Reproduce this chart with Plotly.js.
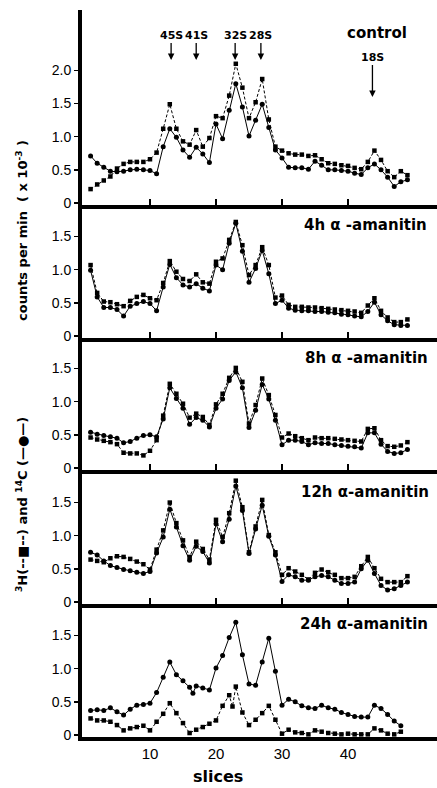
<!DOCTYPE html>
<html><head><meta charset="utf-8">
<script src="https://cdn.plot.ly/plotly-3.0.1.min.js"></script>
<style>html,body{margin:0;padding:0;background:#fff}</style>
</head><body><div id="chart" style="width:437px;height:788px"></div>
<script>
// ---- data ----
const slices = [1,2,3,4,5,6,7,8,9,10,11,12,13,14,15,16,17,18,19,20,21,22,23,24,25,26,27,28,29,30,31,32,33,34,35,36,37,38,39,40,41,42,43,44,45,46,47,48,49];
const slices24C = [1,2,3,4,5,6,7,8,9,10,11,12,13,14,15,16,16.5,17,18,19,20,21,22,23,24,25,26,27,28,29,30,31,32,33,34,35,36,37,38,39,40,41,42,43,44,45,46,47,48];
const slices24H = [1,2,3,4,5,6,7,8,9,10,11,12,13,14,15,16,17,18,19,20,21,22,22.5,23,24,25,26,27,28,29,30,31,32,33,34,35,36,37,38,39,40,41,42,43,44,45,46,47,48];

const ctrlH = [0.21,0.28,0.34,0.40,0.52,0.59,0.62,0.62,0.62,0.66, 0.76,1.12,1.49,1.12,0.93,0.88,1.10,0.85,0.98,1.31, 1.28,1.62,2.10,1.74,1.28,1.52,1.87,1.26,0.85,0.79, 0.75,0.73,0.73,0.71,0.72,0.66,0.60,0.59,0.57,0.56, 0.53,0.51,0.62,0.79,0.65,0.48,0.39,0.48,0.42];
const ctrlC = [0.71,0.60,0.54,0.48,0.47,0.48,0.50,0.51,0.50,0.49, 0.44,0.85,1.12,0.99,0.80,0.69,0.84,0.74,0.61,1.19, 0.97,1.40,1.80,1.45,1.01,1.25,1.49,1.14,0.80,0.68, 0.54,0.53,0.53,0.51,0.63,0.57,0.50,0.50,0.49,0.48, 0.45,0.43,0.53,0.59,0.50,0.39,0.25,0.32,0.35];

const h4H = [1.07,0.65,0.52,0.51,0.48,0.45,0.53,0.59,0.62,0.57, 0.54,0.80,1.13,0.97,0.86,0.83,0.93,0.81,0.79,1.12, 1.17,1.45,1.72,1.37,0.92,1.07,1.34,1.07,0.58,0.61, 0.47,0.44,0.44,0.43,0.43,0.42,0.41,0.40,0.39,0.38, 0.37,0.35,0.46,0.57,0.38,0.28,0.21,0.21,0.25];
const h4C = [0.99,0.59,0.43,0.43,0.40,0.30,0.45,0.49,0.52,0.49, 0.38,0.74,1.08,0.88,0.77,0.74,0.79,0.72,0.68,1.07, 1.00,1.40,1.70,1.28,0.81,1.02,1.29,0.94,0.49,0.54, 0.42,0.39,0.38,0.38,0.37,0.37,0.36,0.35,0.33,0.32, 0.30,0.29,0.37,0.51,0.32,0.23,0.17,0.16,0.16];

const h8H = [0.46,0.43,0.41,0.39,0.36,0.23,0.22,0.22,0.19,0.26, 0.42,0.79,1.27,1.12,0.97,0.76,0.82,0.77,0.65,0.96, 1.12,1.36,1.51,1.30,0.67,0.95,1.35,1.10,0.80,0.46, 0.52,0.48,0.45,0.42,0.46,0.45,0.45,0.44,0.43,0.42, 0.41,0.40,0.59,0.60,0.42,0.33,0.32,0.34,0.39];
const h8C = [0.54,0.51,0.49,0.47,0.45,0.38,0.40,0.45,0.49,0.50, 0.47,0.74,1.21,1.05,0.90,0.66,0.76,0.72,0.62,0.90, 1.04,1.32,1.45,1.21,0.61,0.87,1.26,1.04,0.72,0.35, 0.42,0.42,0.40,0.35,0.38,0.37,0.37,0.35,0.34,0.33, 0.32,0.30,0.53,0.53,0.36,0.25,0.22,0.23,0.28];

const h12H = [0.64,0.62,0.60,0.66,0.69,0.68,0.65,0.61,0.57,0.49, 0.79,1.08,1.50,1.19,0.93,0.68,0.91,0.80,0.64,1.24, 0.98,1.34,1.83,1.43,0.75,1.14,1.54,1.01,0.75,0.41, 0.51,0.46,0.41,0.34,0.44,0.49,0.45,0.41,0.36,0.36, 0.38,0.54,0.68,0.51,0.35,0.30,0.30,0.30,0.39];
const h12C = [0.75,0.71,0.62,0.55,0.52,0.49,0.47,0.45,0.43,0.46, 0.74,0.98,1.40,1.13,0.85,0.63,0.84,0.76,0.59,1.18, 0.91,1.25,1.75,1.38,0.73,1.10,1.46,0.99,0.71,0.31, 0.41,0.38,0.33,0.33,0.38,0.40,0.38,0.33,0.28,0.28, 0.30,0.50,0.63,0.43,0.25,0.18,0.20,0.25,0.30];

const h24H = [0.25,0.22,0.22,0.20,0.15,0.07,0.10,0.12,0.14,0.07, 0.20,0.32,0.48,0.33,0.18,0.03,0.08,0.12,0.17,0.22, 0.44,0.60,0.43,0.73,0.34,0.15,0.23,0.33,0.44,0.23, 0.02,0.08,0.04,0.03,0.01,0.07,0.05,0.03,0.02,0.01, 0.02,0.01,0.01,0.01,0.10,0.07,0.02,0.01,0.05];
const h24C = [0.37,0.38,0.37,0.41,0.35,0.30,0.39,0.45,0.46,0.48, 0.64,0.87,1.10,0.91,0.82,0.72,0.63,0.74,0.71,0.68, 1.01,1.20,1.47,1.70,1.21,0.77,0.75,1.10,1.46,0.96, 0.45,0.54,0.50,0.44,0.41,0.40,0.45,0.41,0.39,0.34, 0.31,0.28,0.27,0.27,0.45,0.40,0.31,0.21,0.14];

const panelLabels = ['control', '4h \u03b1 -amanitin', '8h \u03b1 -amanitin', '12h \u03b1-amanitin', '24h \u03b1-amanitin'];
const markerLabels = ['45S', '41S', '32S', '28S', '18S'];
const markerSlices = [13.2, 17, 22.9, 26.8, 43.7];
const xTickVals = [10, 20, 30, 40];
const xTickText = ['10', '20', '30', '40'];
const yTickVals = [0, 0.5, 1, 1.5, 2];
const yTickText = ['0', '0.5', '1.0', '1.5', '2.0'];

// ---- layout geometry ----
const W = 437, H = 788, ML = 82, MR = 0, MT = 10, MB = 51;
const plotH = H - MT - MB, plotW = W - ML - MR;
const seps = [10, 205, 338, 470, 604, 737];
const pxPerUnit = 66.3;
const xRange = [-0.3, 53.48];
const py = p => (H - MB - p) / plotH;       // pixel y -> paper
const px = p => (p - ML) / plotW;           // pixel x -> paper

const panels = [
  {H: ctrlH, C: ctrlC, xH: slices, xC: slices},
  {H: h4H, C: h4C, xH: slices, xC: slices},
  {H: h8H, C: h8C, xH: slices, xC: slices},
  {H: h12H, C: h12C, xH: slices, xC: slices},
  {H: h24H, C: h24C, xH: slices24H, xC: slices24C},
];

const FONT = 'Liberation Sans, Arial, sans-serif';
const BOLD = 'DejaVu Sans, Liberation Sans, sans-serif';
const data = [];
const layout = {
  width: W, height: H,
  margin: {l: ML, r: MR, t: MT, b: MB},
  paper_bgcolor: '#fff', plot_bgcolor: '#fff',
  showlegend: false,
  annotations: [],
};

panels.forEach((p, i) => {
  const sfx = i === 0 ? '' : String(i + 1);
  const xa = 'x' + sfx, ya = 'y' + sfx;
  data.push({
    x: p.xH, y: p.H, xaxis: xa, yaxis: ya, type: 'scatter', mode: 'lines+markers',
    line: {color: '#000', width: 1, dash: '3px,2px'},
    marker: {symbol: 'square', size: 4.5, color: '#000'},
    cliponaxis: false, hoverinfo: 'skip'
  });
  data.push({
    x: p.xC, y: p.C, xaxis: xa, yaxis: ya, type: 'scatter', mode: 'lines+markers',
    line: {color: '#000', width: 1},
    marker: {symbol: 'circle', size: 5, color: '#000'},
    cliponaxis: false, hoverinfo: 'skip'
  });
  const top = seps[i], bot = seps[i + 1];
  const isBottom = i === panels.length - 1;
  layout['xaxis' + sfx] = {
    domain: [0, 1], anchor: ya, range: xRange,
    showline: true, linecolor: '#000', linewidth: 4,
    showgrid: false, zeroline: false,
    tickvals: xTickVals, ticktext: xTickText,
    ticks: isBottom ? '' : 'inside', ticklen: 6, tickwidth: 1.5, tickcolor: '#000',
    showticklabels: isBottom,
    tickfont: {family: FONT, size: 15, color: '#000'}
  };
  const nT = i === 0 ? 5 : 4;
  layout['yaxis' + sfx] = {
    domain: [py(bot), py(top)], anchor: xa,
    range: [-0.03, -0.03 + (bot - top) / pxPerUnit],
    showline: true, linecolor: '#000', linewidth: 4,
    showgrid: false, zeroline: false,
    tickvals: yTickVals.slice(0, nT), ticktext: yTickText.slice(0, nT),
    ticks: 'outside', ticklen: 4, tickwidth: 1.5, tickcolor: '#000',
    tickfont: {family: FONT, size: 14, color: '#000'}
  };
});

// panel labels
const labelPos = [[377, 33, 'center'], [429, 225, 'right'], [430, 358, 'right'], [431, 492, 'right'], [430, 624, 'right']];
panelLabels.forEach((t, i) => {
  layout.annotations.push({
    text: t, xref: 'paper', yref: 'paper',
    x: px(labelPos[i][0]), y: py(labelPos[i][1]),
    xanchor: labelPos[i][2], yanchor: 'middle', showarrow: false,
    font: {family: BOLD, size: 15, color: '#000', weight: 'bold'}
  });
});

// RNA marker arrows in control panel
markerLabels.forEach((t, i) => {
  const is18 = t === '18S';
  const tipPx = is18 ? 97 : 60;
  const textPx = is18 ? 57 : 35;
  layout.annotations.push({
    text: '<b>' + t + '</b>', xref: 'x', yref: 'y',
    x: markerSlices[i], y: -0.03 + (seps[1] - tipPx) / pxPerUnit,
    ax: 0, ay: textPx - tipPx, axref: 'pixel', ayref: 'pixel',
    showarrow: true, arrowhead: 2, arrowsize: 1, arrowwidth: 1.3, arrowcolor: '#000',
    font: {family: BOLD, size: 11, color: '#000'}
  });
});

// y axis titles
layout.annotations.push({
  text: 'counts per min  ( x 10<sup>-3</sup> )', xref: 'paper', yref: 'paper',
  x: px(22), y: py(231), textangle: -90, showarrow: false,
  xanchor: 'center', yanchor: 'middle',
  font: {family: BOLD, size: 13, color: '#000', weight: 'bold'}
});
layout.annotations.push({
  text: '<sup>3</sup>H(--\u25a0--) and <sup>14</sup>C (\u2014\u25cf\u2014)', xref: 'paper', yref: 'paper',
  x: px(22), y: py(505), textangle: -90, showarrow: false,
  xanchor: 'center', yanchor: 'middle',
  font: {family: BOLD, size: 13, color: '#000', weight: 'bold'}
});
// x title
layout.annotations.push({
  text: 'slices', xref: 'paper', yref: 'paper',
  x: px(218), y: py(776), showarrow: false, xanchor: 'center', yanchor: 'middle',
  font: {family: BOLD, size: 16, color: '#000', weight: 'bold'}
});

Plotly.newPlot('chart', data, layout, {staticPlot: true, displayModeBar: false});
</script>
</body></html>
